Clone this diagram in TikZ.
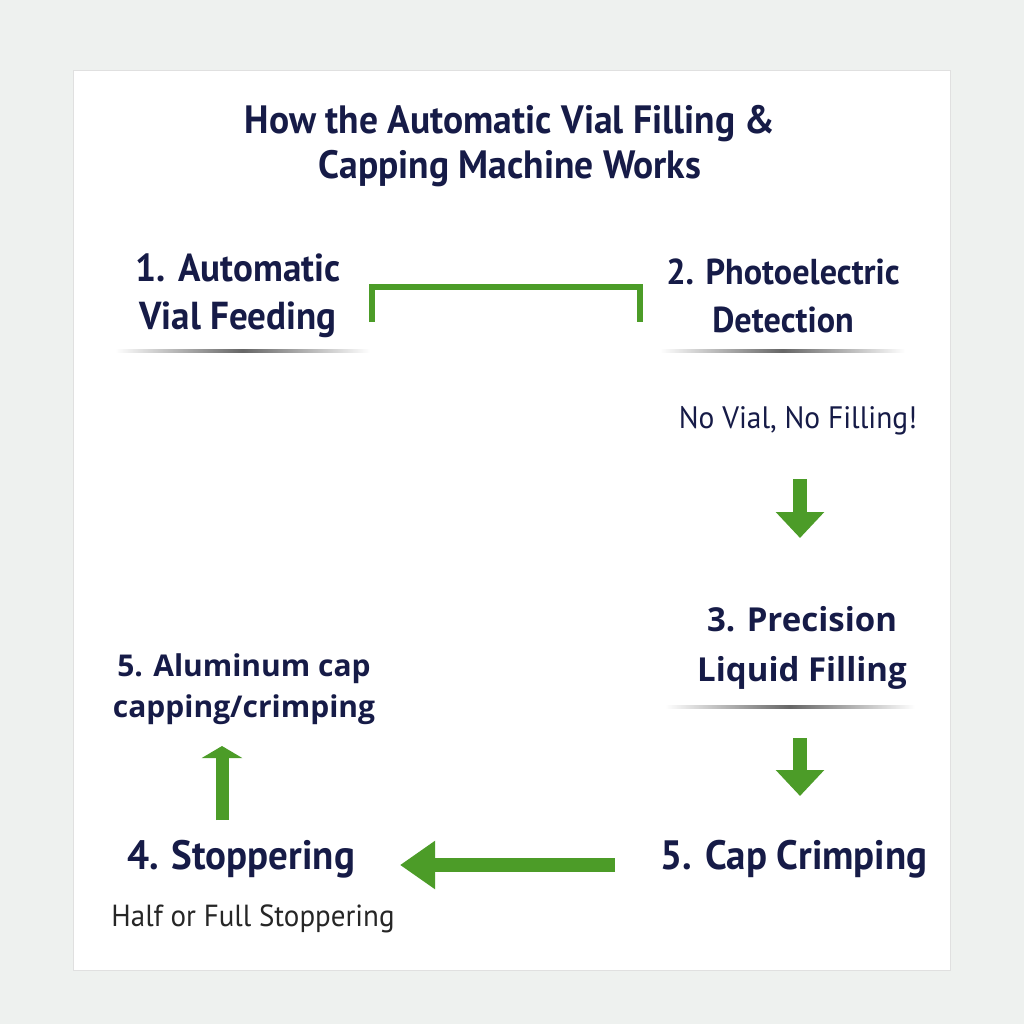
\documentclass[tikz,border=0pt]{standalone}
\usepackage{fontspec}
\usepackage{tikz}
\usetikzlibrary{arrows.meta}
\newfontfamily\condfont{PT Sans}[FakeStretch=0.95]
\newfontfamily\widefont{Open Sans}
\definecolor{navy}{HTML}{161B47}
\definecolor{leaf}{HTML}{4C9C28}
\definecolor{paper}{HTML}{EEF1EF}
\tikzstyle{title}=[text=navy, inner sep=0, align=center, font=\condfont\bfseries\fontsize{39.5}{45}\selectfont]
\tikzset{stepc/.style={text=navy, inner sep=0, align=center, font=\condfont\bfseries\fontsize{#1}{48}\selectfont}, stepc/.default=39}
\tikzstyle{stepw}=[text=navy, inner sep=0, align=center, font=\widefont\bfseries\fontsize{33}{50}\selectfont]
\tikzstyle{alu}=[text=navy, inner sep=0, align=center, font=\widefont\bfseries\fontsize{30}{41}\selectfont]
\tikzstyle{note}=[text=navy, inner sep=0, font=\condfont\fontsize{31}{36}\selectfont]
\tikzstyle{rule}=[left color=white, right color=white, middle color=black!60]
\tikzstyle{blockarrow}=[draw=leaf, line width=14pt, -{Triangle[width=47pt,length=26pt]}]
\tikzstyle{bracket}=[draw=leaf, line width=6pt]

\begin{document}
\begin{tikzpicture}[x=1pt, y=-1pt]
	\useasboundingbox (0,0) rectangle (1024,1024);
	\fill[paper] (0,0) rectangle (1024,1024);
	\draw[draw=black!12, fill=white] (73,70) rectangle (950,970);
	\begin{scope}
		\node (title) at (510,146)[title] {How the Automatic Vial Filling \&\\Capping Machine Works};
		\node (feed) at (238,296)[stepc] {1. Automatic\\Vial Feeding};
		\node (detect) at (783,296)[stepc=36] {2. Photoelectric\\Detection};
		\node (novial) at (798,421)[note] {No Vial, No Filling!};
		\node (fill) at (802,648)[stepw] {3. Precision\\Liquid Filling};
		\node (crimp) at (794,859)[stepc=41] {5. Cap Crimping};
		\node (stopper) at (241,859)[stepc=41] {4. Stoppering};
		\node (halffull) at (253,919)[note, text=black!85, font=\condfont\fontsize{30.5}{36}\selectfont] {Half or Full Stoppering};
		\node (alucap) at (244,689)[alu] {5. Aluminum cap\\capping/crimping};
		\coordinate (brL) at (372,322);
		\coordinate (brR) at (640,322);
		\coordinate (d1s) at (800,479);
		\coordinate (d1e) at (800,538);
		\coordinate (d2s) at (800,738);
		\coordinate (d2e) at (800,796);
		\coordinate (ls) at (615,865);
		\coordinate (le) at (400,865);
		\coordinate (us) at (222,820);
		\coordinate (ue) at (222,746);
	\end{scope}
	\begin{scope}
		\shade[rule] (115,349) rectangle (370,352);
		\shade[rule] (660,349) rectangle (905,352);
		\shade[rule] (665,705) rectangle (915,708);
		\draw[bracket] (brL) -- ++(0,-35) -| (brR);
		\draw[blockarrow] (d1s) -- (d1e);
		\draw[blockarrow] (d2s) -- (d2e);
		\draw[blockarrow, -{Triangle[width=46pt,length=35pt]}] (ls) -- (le);
		\draw[blockarrow, line width=13pt, -{Triangle[width=40pt,length=12pt]}] (us) -- (ue);
	\end{scope}
\end{tikzpicture}
\end{document}
